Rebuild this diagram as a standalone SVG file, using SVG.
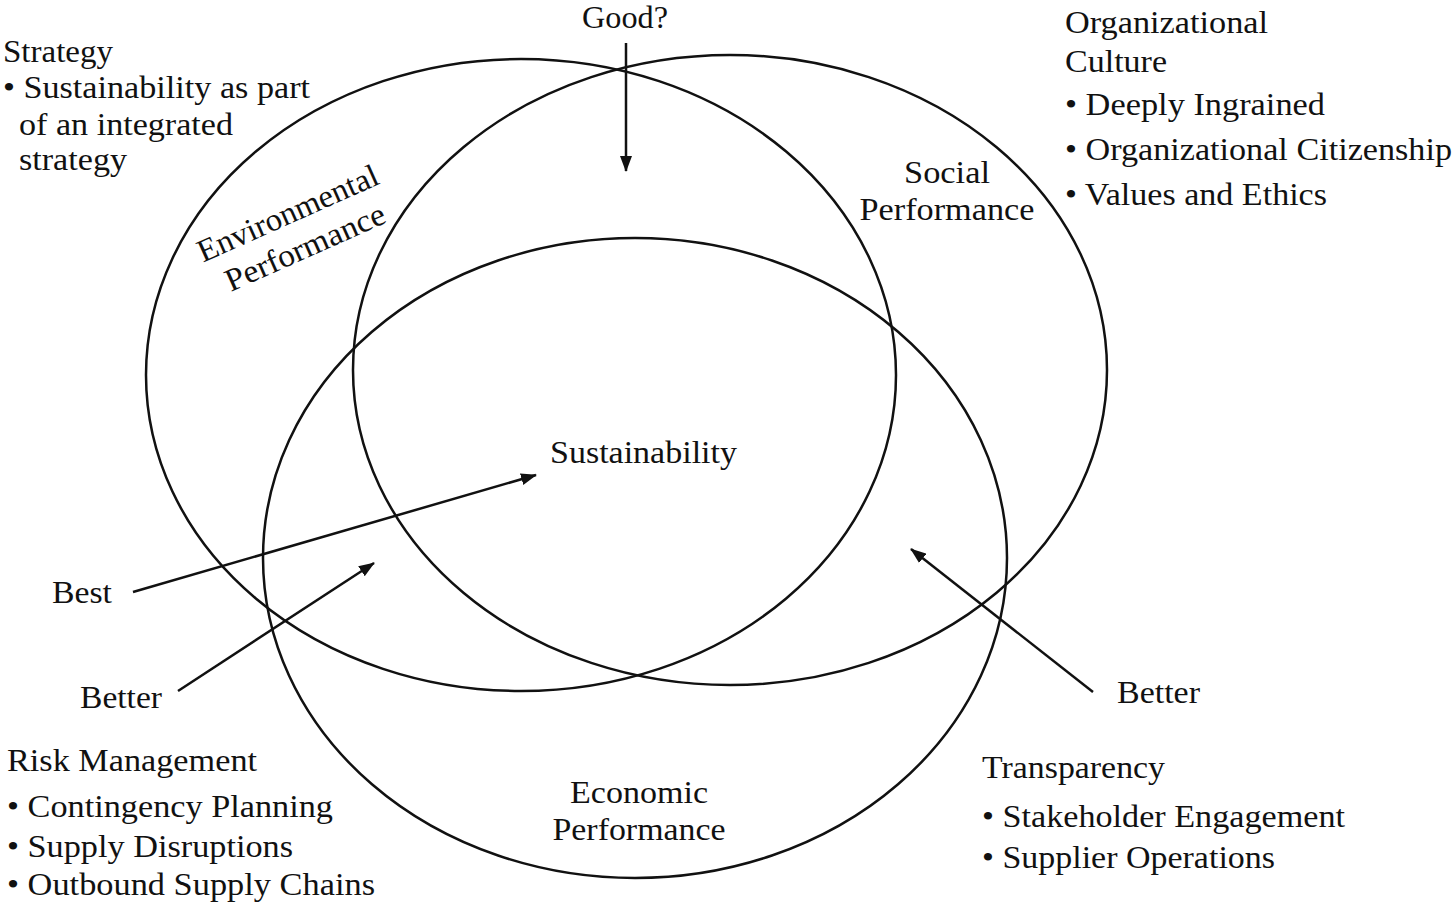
<svg xmlns="http://www.w3.org/2000/svg" width="1456" height="907" viewBox="0 0 1456 907">
<style>
text{font-family:"Liberation Serif","Times New Roman",serif;font-size:32px;fill:#111}
.c{text-anchor:middle}
.ring{fill:none;stroke:#111;stroke-width:2.5}
.ar{fill:none;stroke:#111;stroke-width:2.5}
</style>
<defs>
<marker id="ah" viewBox="0 0 16 12" refX="15" refY="6" markerWidth="16" markerHeight="12" markerUnits="userSpaceOnUse" orient="auto">
<path d="M0,0 L16,6 L0,12 Z" fill="#111"/>
</marker>
</defs>
<rect width="1456" height="907" fill="#fff"/>
<g id="env-circle">
<ellipse class="ring" cx="521" cy="375" rx="375" ry="316"/>
<g transform="translate(292,223) rotate(-24)">
<text class="c" x="0" y="0" textLength="195" lengthAdjust="spacingAndGlyphs">Environmental</text>
<text class="c" x="2" y="38" textLength="172" lengthAdjust="spacingAndGlyphs">Performance</text>
</g>
</g>
<g id="social-circle">
<ellipse class="ring" cx="730" cy="370" rx="377" ry="315"/>
<text class="c" x="947" y="183" textLength="86" lengthAdjust="spacingAndGlyphs">Social</text>
<text class="c" x="947" y="220" textLength="175" lengthAdjust="spacingAndGlyphs">Performance</text>
</g>
<g id="econ-circle">
<ellipse class="ring" cx="635" cy="558" rx="372" ry="320"/>
<text class="c" x="639" y="803" textLength="138" lengthAdjust="spacingAndGlyphs">Economic</text>
<text class="c" x="639" y="840" textLength="173" lengthAdjust="spacingAndGlyphs">Performance</text>
</g>
<g id="center">
<text x="550" y="463" textLength="187" lengthAdjust="spacingAndGlyphs">Sustainability</text>
</g>
<g id="good"><text x="582" y="28" textLength="86" lengthAdjust="spacingAndGlyphs">Good?</text></g>
<g id="best"><text x="52" y="603" textLength="60" lengthAdjust="spacingAndGlyphs">Best</text></g>
<g id="better-left"><text x="80" y="708" textLength="82" lengthAdjust="spacingAndGlyphs">Better</text></g>
<g id="better-right"><text x="1117" y="703" textLength="83" lengthAdjust="spacingAndGlyphs">Better</text></g>
<g id="strategy">
<text x="3" y="62" textLength="110" lengthAdjust="spacingAndGlyphs">Strategy</text>
<text x="3" y="98" textLength="307" lengthAdjust="spacingAndGlyphs">• Sustainability as part</text>
<text x="19" y="135" textLength="214" lengthAdjust="spacingAndGlyphs">of an integrated</text>
<text x="19" y="170" textLength="108" lengthAdjust="spacingAndGlyphs">strategy</text>
</g>
<g id="culture">
<text x="1065" y="33" textLength="203" lengthAdjust="spacingAndGlyphs">Organizational</text>
<text x="1065" y="72" textLength="102" lengthAdjust="spacingAndGlyphs">Culture</text>
<text x="1065" y="115" textLength="260" lengthAdjust="spacingAndGlyphs">• Deeply Ingrained</text>
<text x="1065" y="160" textLength="387" lengthAdjust="spacingAndGlyphs">• Organizational Citizenship</text>
<text x="1065" y="205" textLength="262" lengthAdjust="spacingAndGlyphs">• Values and Ethics</text>
</g>
<g id="risk">
<text x="7" y="771" textLength="250" lengthAdjust="spacingAndGlyphs">Risk Management</text>
<text x="7" y="817" textLength="326" lengthAdjust="spacingAndGlyphs">• Contingency Planning</text>
<text x="7" y="857" textLength="286" lengthAdjust="spacingAndGlyphs">• Supply Disruptions</text>
<text x="7" y="895" textLength="368" lengthAdjust="spacingAndGlyphs">• Outbound Supply Chains</text>
</g>
<g id="transparency">
<text x="982" y="778" textLength="183" lengthAdjust="spacingAndGlyphs">Transparency</text>
<text x="982" y="827" textLength="363" lengthAdjust="spacingAndGlyphs">• Stakeholder Engagement</text>
<text x="982" y="868" textLength="293" lengthAdjust="spacingAndGlyphs">• Supplier Operations</text>
</g>
<g id="connectors">
<line class="ar" x1="626" y1="43" x2="626" y2="171" marker-end="url(#ah)"/>
<line class="ar" x1="133" y1="592" x2="536" y2="475" marker-end="url(#ah)"/>
<line class="ar" x1="178" y1="691" x2="374" y2="563" marker-end="url(#ah)"/>
<line class="ar" x1="1093" y1="692" x2="911" y2="549" marker-end="url(#ah)"/>
</g>
</svg>
